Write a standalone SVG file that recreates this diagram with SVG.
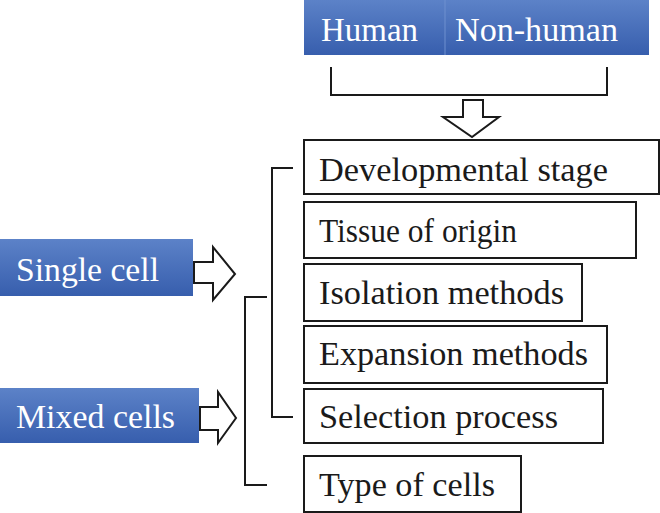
<svg xmlns="http://www.w3.org/2000/svg" width="660" height="513" viewBox="0 0 660 513">
<defs>
<linearGradient id="blue" x1="0" y1="0" x2="0" y2="1">
<stop offset="0" stop-color="#5c82c8"/>
<stop offset="1" stop-color="#375ead"/>
</linearGradient>
</defs>
<style>
text{font-family:"Liberation Serif","Times New Roman",serif;font-size:34px}
.w{fill:#ffffff}
.k{fill:#1a1a1a}
.bx{fill:#ffffff;stroke:#1a1a1a;stroke-width:2}
.bl{fill:url(#blue)}
.ln{fill:none;stroke:#1a1a1a;stroke-width:2}
.ar{fill:#ffffff;stroke:#1a1a1a;stroke-width:2;stroke-linejoin:miter}
</style>
<rect width="660" height="513" fill="#ffffff"/>
<g id="top">
<rect class="bl" x="304" y="0" width="345" height="55"/>
<line x1="445" y1="0" x2="445" y2="55" stroke="#6f90cf" stroke-width="1"/>
<text class="w" x="321" y="41" textLength="97" lengthAdjust="spacingAndGlyphs">Human</text>
<text class="w" x="455" y="41" textLength="163" lengthAdjust="spacingAndGlyphs">Non-human</text>
</g>
<g id="single">
<rect class="bl" x="0" y="239" width="193" height="57"/>
<text class="w" x="16" y="281" textLength="143" lengthAdjust="spacingAndGlyphs">Single cell</text>
</g>
<g id="mixed">
<rect class="bl" x="0" y="388" width="199" height="55"/>
<text class="w" x="16" y="428" textLength="159" lengthAdjust="spacingAndGlyphs">Mixed cells</text>
</g>
<g id="dev"><rect class="bx" x="304" y="140" width="355" height="54"/><text class="k" x="319" y="181" textLength="289" lengthAdjust="spacingAndGlyphs">Developmental stage</text></g>
<g id="tissue"><rect class="bx" x="304" y="202" width="332" height="56"/><text class="k" x="319" y="242" textLength="198" lengthAdjust="spacingAndGlyphs">Tissue of origin</text></g>
<g id="isolation"><rect class="bx" x="304" y="264" width="278" height="57"/><text class="k" x="319" y="304" textLength="245" lengthAdjust="spacingAndGlyphs">Isolation methods</text></g>
<g id="expansion"><rect class="bx" x="304" y="326" width="303" height="57"/><text class="k" x="319" y="365" textLength="269" lengthAdjust="spacingAndGlyphs">Expansion methods</text></g>
<g id="selection"><rect class="bx" x="304" y="389" width="299" height="54"/><text class="k" x="319" y="428" textLength="239" lengthAdjust="spacingAndGlyphs">Selection process</text></g>
<g id="type"><rect class="bx" x="304" y="456" width="217" height="56"/><text class="k" x="319" y="496" textLength="176" lengthAdjust="spacingAndGlyphs">Type of cells</text></g>
<g id="connectors">
<path class="ln" d="M331 67 V95 H607 V67"/>
<path class="ar" d="M463 100 H483 V117 H499 L472 137 L443 117 H463 Z"/>
<path class="ar" d="M194 262 H213 V247 L235 274 L213 300 V283 H194 Z"/>
<path class="ar" d="M200 407 H218 V392 L236 418 L218 443 V430 H200 Z"/>
<path class="ln" d="M293 168 H272 V417 H293"/>
<path class="ln" d="M267 297 H245 V485 H267"/>
</g>
</svg>
